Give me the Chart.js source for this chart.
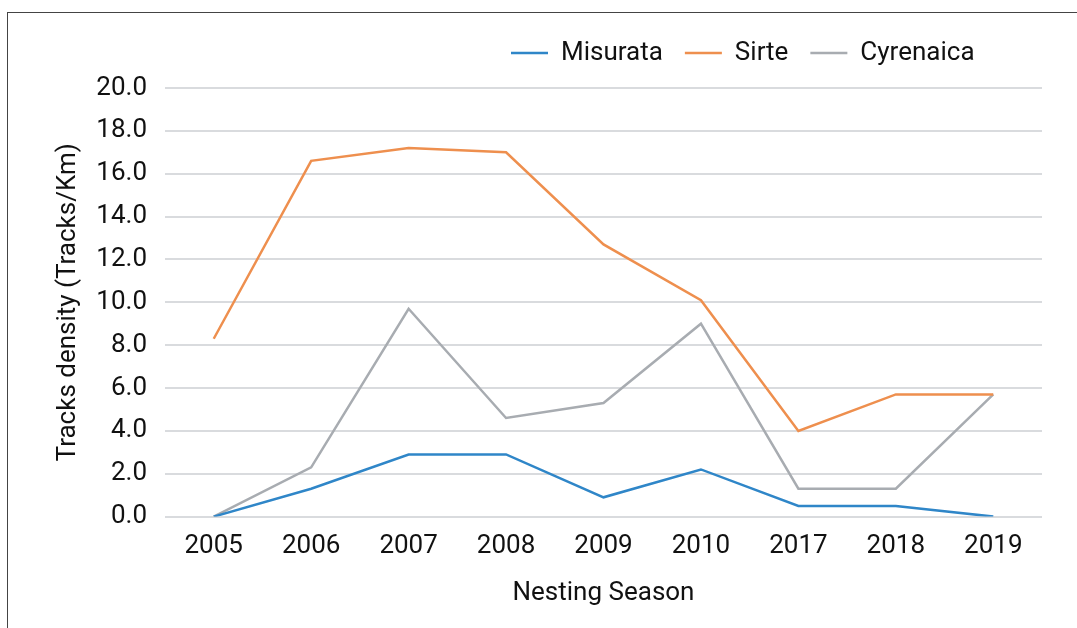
<!DOCTYPE html>
<html>
<head>
<meta charset="utf-8">
<script src="https://cdn.jsdelivr.net/npm/chart.js@4/dist/chart.umd.min.js"></script>
<style>
  html, body { margin: 0; padding: 0; background: #fff; overflow: hidden; }
  #frame {
    position: absolute; left: 7px; top: 12px;
    width: 1200px; height: 800px;
    border: 1.5px solid #444; box-sizing: border-box;
  }
  #chart { position: absolute; left: 0; top: 0; }
</style>
</head>
<body>
<div id="frame"></div>
<canvas id="chart" width="1077" height="628"></canvas>
<script>
// nesting seasons and track densities (tracks/km)
const seasons = ["2005", "2006", "2007", "2008", "2009", "2010", "2017", "2018", "2019"];
const misurata = [0, 1.3, 2.9, 2.9, 0.9, 2.2, 0.5, 0.5, 0];
const sirte = [8.3, 16.6, 17.2, 17.0, 12.7, 10.1, 4.0, 5.7, 5.7];
const cyrenaica = [0, 2.3, 9.7, 4.6, 5.3, 9.0, 1.3, 1.3, 5.7];

const yTicks = [0, 2, 4, 6, 8, 10, 12, 14, 16, 18, 20];

const blue = "#2f86c8";
const orange = "#ee8f4e";
const grey = "#a8acb1";
const gridGrey = "#d9dbde";
const font = "Roboto, 'Liberation Sans', sans-serif";
const fs = 26;

// legend: move it right of centre and leave more room below it
const legendTweak = {
  id: "legendTweak",
  afterInit(chart) {
    const lg = chart.legend;
    if (!lg || lg._tweaked) return;
    const fit = lg.fit;
    lg.fit = function () { fit.call(this); this.height += 12; };
    lg._tweaked = true;
  },
  afterLayout(chart) {
    const lg = chart.legend;
    if (!lg) return;
    const w = lg.right - lg.left;
    lg.left = 489;
    lg.right = lg.left + w;
  }
};

const line = (label, data, color) => ({
  label,
  data,
  borderColor: color,
  backgroundColor: color,
  borderWidth: 2.5,
  pointRadius: 0,
  tension: 0,
  fill: false
});

new Chart(document.getElementById("chart"), {
  type: "line",
  data: {
    labels: seasons,
    datasets: [
      line("Misurata", misurata, blue),
      line("Sirte", sirte, orange),
      line("Cyrenaica", cyrenaica, grey)
    ]
  },
  options: {
    responsive: false,
    animation: false,
    layout: { padding: { left: 30, right: 35, top: 18, bottom: 19 } },
    plugins: {
      legend: {
        position: "top",
        align: "start",
        labels: {
          boxWidth: 37,
          boxHeight: 0,
          padding: 22,
          color: "#111",
          font: { family: font, size: fs }
        }
      },
      tooltip: { enabled: false }
    },
    scales: {
      x: {
        offset: true,
        grid: { display: false },
        border: { display: false },
        ticks: { color: "#111", padding: 6, font: { family: font, size: fs } },
        title: {
          display: true,
          text: "Nesting Season",
          color: "#111",
          padding: { top: 10, bottom: 0 },
          font: { family: font, size: fs }
        }
      },
      y: {
        min: 0,
        max: 20,
        afterBuildTicks: s => { s.ticks = yTicks.map(v => ({ value: v })); },
        afterFit: s => { s.width = 135; },
        grid: { color: gridGrey, lineWidth: 2, drawTicks: false },
        border: { display: false },
        ticks: {
          color: "#111",
          padding: 18,
          font: { family: font, size: fs },
          callback: v => Number(v).toFixed(1)
        },
        title: {
          display: true,
          text: "Tracks density (Tracks/Km)",
          color: "#111",
          padding: { top: 23, bottom: 0 },
          font: { family: font, size: fs }
        }
      }
    }
  },
  plugins: [legendTweak]
});
</script>
</body>
</html>
